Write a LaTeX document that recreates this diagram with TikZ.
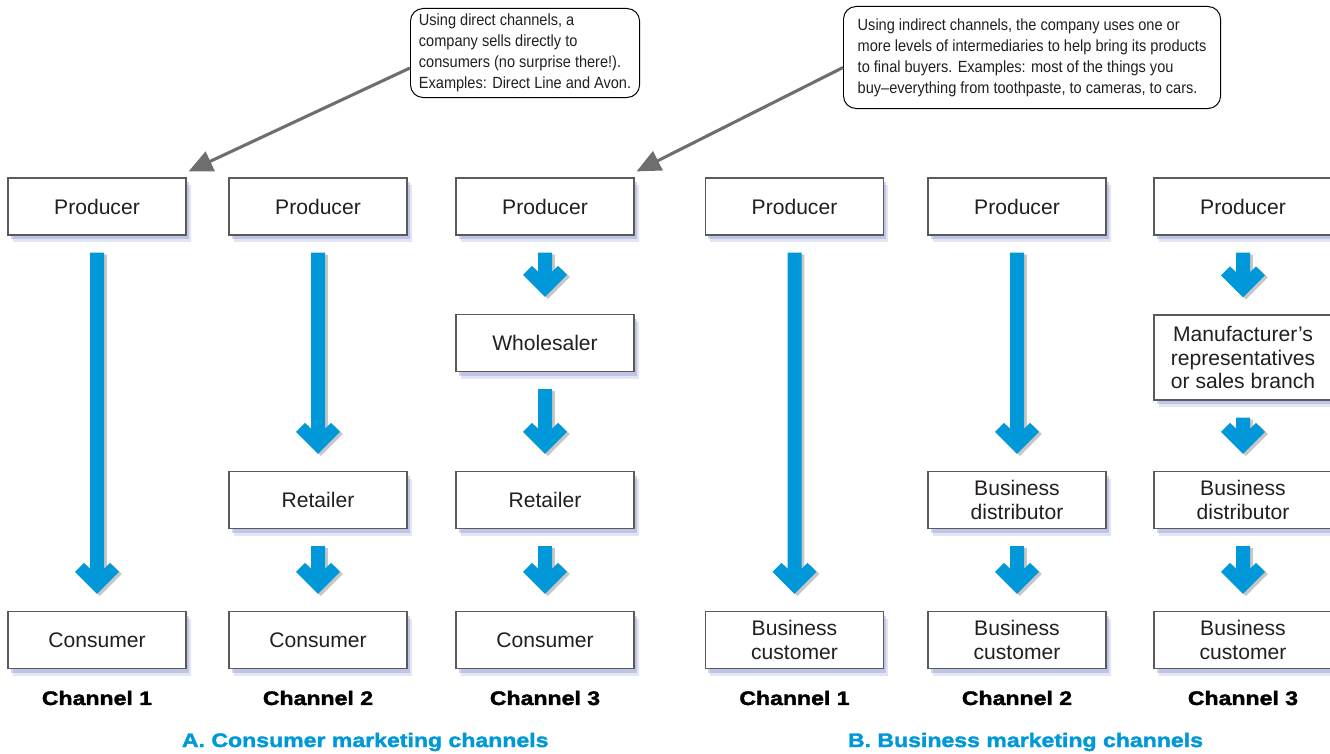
\documentclass[tikz,border=0pt]{standalone}
\usepackage{fontspec}
\setmainfont{Liberation Sans}
\newfontfamily\notefont[FakeStretch=0.9]{Liberation Sans}
\newfontfamily\heavyfont[FakeStretch=1.18,BoldFeatures={FakeBold=1.8}]{Liberation Sans}
\usepackage{tikz}
\usetikzlibrary{calc,shadows,arrows.meta}
\definecolor{flowblue}{RGB}{0,152,216}
\definecolor{boxline}{RGB}{90,90,90}
\definecolor{halo}{RGB}{140,150,212}
\definecolor{pointergray}{RGB}{110,110,112}
\definecolor{inkgray}{RGB}{35,31,32}
\tikzstyle{stage} = [draw=boxline, line width=0.8pt, fill=white, minimum width=4.45cm, minimum height=1.425cm, inner sep=2pt, align=center, text=inkgray, font=\fontsize{15}{17}\selectfont, drop shadow={shadow xshift=3.5pt,shadow yshift=-5pt,fill=halo,opacity=0.25}, drop shadow={shadow xshift=2pt,shadow yshift=-3pt,fill=halo,opacity=0.4}]
\tikzstyle{note} = [draw=black, line width=0.7pt, rounded corners=9pt, fill=white, align=left, anchor=north west, inner xsep=6pt, text=inkgray, font=\notefont\fontsize{11.5}{14.9}\selectfont]
\tikzstyle{callout} = [draw=pointergray, line width=2.2pt, -{Triangle[length=17pt,width=15pt]}]
\tikzstyle{chlabel} = [text=black, font=\heavyfont\bfseries\fontsize{13.9}{16}\selectfont]
\tikzstyle{parttitle} = [text=flowblue, anchor=west, font=\heavyfont\bfseries\fontsize{13.9}{16}\selectfont]
% thick blue arrow from the bottom of one box to the top of the next
\newcommand{\flow}[2]{%
  \path ($(#1.south)+(0,17)$) coordinate (fa) ($(#2.north)+(0,-17)$) coordinate (fb);
  \fill[flowblue, drop shadow={shadow xshift=2pt,shadow yshift=-1.5pt,fill=black,opacity=0.22}]
    ($(fa)+(-7,0)$) -- ($(fb)+(-7,-25)$) -- ($(fb)+(-13,-31)$) -- ($(fb)+(-22,-22)$) -- (fb)
    -- ($(fb)+(22,-22)$) -- ($(fb)+(13,-31)$) -- ($(fb)+(7,-25)$) -- ($(fa)+(7,0)$) -- cycle;}

\begin{document}
\begin{tikzpicture}[x=0.025cm,y=-0.025cm]
\useasboundingbox (0,0) rectangle (1330,754);

\foreach \n/\x in {1/97,2/318,3/545,4/794.5,5/1017,6/1243}
    \node[stage] (prod\n) at (\x,206.5) {Producer};
\foreach \n/\x in {1/97,2/318,3/545}
    \node[stage] (cons\n) at (\x,640) {Consumer};
\foreach \n/\x in {4/794.5,5/1017,6/1243}
    \node[stage] (cust\n) at (\x,640) {Business\\customer};

\node[stage] (whole3) at (545,343) {Wholesaler};
\node[stage] (ret2) at (318,500) {Retailer};
\node[stage] (ret3) at (545,500) {Retailer};
\node[stage] (dist5) at (1017,500) {Business\\distributor};
\node[stage] (dist6) at (1243,500) {Business\\distributor};
\node[stage, minimum height=2.125cm] (rep6) at (1243,357.5) {Manufacturer’s\\representatives\\or sales branch};

\flow{prod1}{cons1}
\flow{prod2}{ret2}
\flow{ret2}{cons2}
\flow{prod3}{whole3}
\flow{whole3}{ret3}
\flow{ret3}{cons3}
\flow{prod4}{cust4}
\flow{prod5}{dist5}
\flow{dist5}{cust5}
\flow{prod6}{rep6}
\flow{rep6}{dist6}
\flow{dist6}{cust6}

\foreach \n/\x/\k in {1/97/1,2/318/2,3/545/3,4/794.5/1,5/1017/2,6/1243/3}
    \node[chlabel] (chan\n) at (\x,698) {Channel \k};

\node[parttitle] (titleA) at (177,742) {A. Consumer marketing channels};
\node[parttitle] (titleB) at (843,742) {B. Business marketing channels};

\node[note, minimum width=5.7cm, minimum height=2.225cm] (note1) at (410,8)
    {Using direct channels, a\\company sells directly to\\consumers (no surprise there!).\\Examples: Direct Line and Avon.};
\node[note, minimum width=9.425cm, minimum height=2.55cm] (note2) at (843,6)
    {Using indirect channels, the company uses one or\\more levels of intermediaries to help bring its products\\to final buyers. Examples: most of the things you\\buy–everything from toothpaste, to cameras, to cars.};

\coordinate (tip1) at ($(prod1.north east)+(2,-6)$);
\coordinate (tip3) at ($(prod3.north east)+(2,-6)$);
\draw[callout] ($(note1.west)+(0,15)$) -- (tip1);
\draw[callout] ($(note2.west)+(0,10)$) -- (tip3);
\end{tikzpicture}
\end{document}
